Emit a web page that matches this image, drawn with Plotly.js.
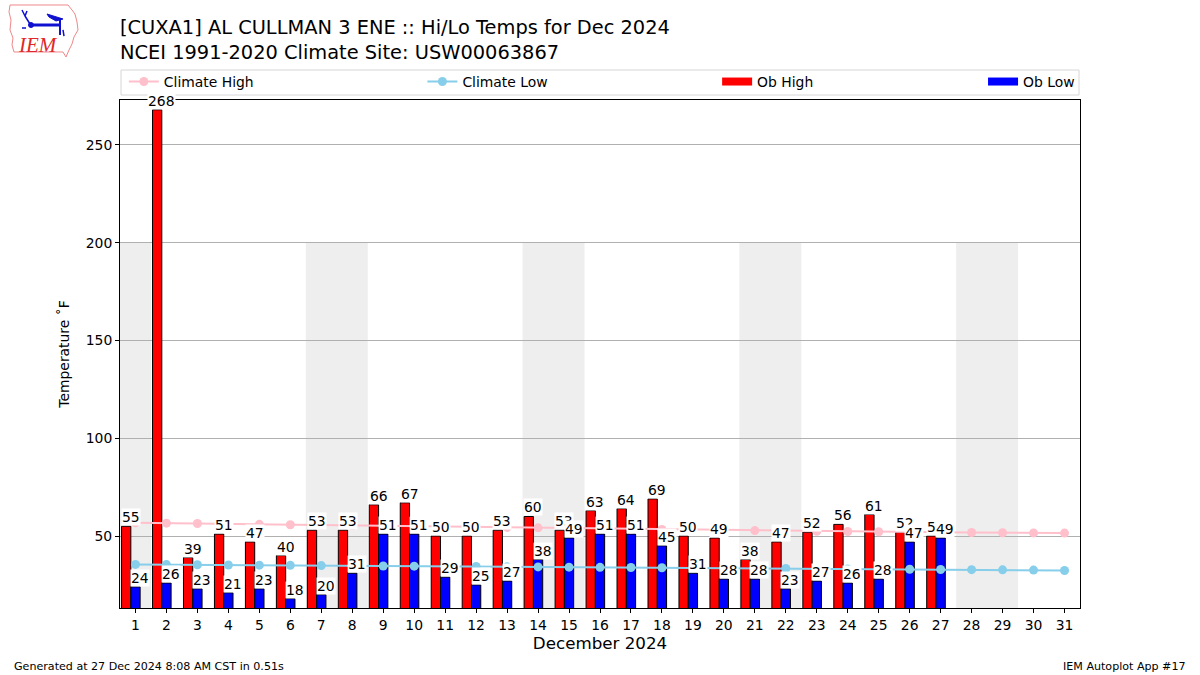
<!DOCTYPE html>
<html>
<head>
<meta charset="utf-8">
<script src="https://cdn.plot.ly/plotly-3.0.1.min.js"></script>
<style>
html,body{margin:0;padding:0;background:#fff;}
#chart{width:1200px;height:675px;}
</style>
</head>
<body>
<div id="chart"></div>
<script>
// ---- Data ----
const days = [1,2,3,4,5,6,7,8,9,10,11,12,13,14,15,16,17,18,19,20,21,22,23,24,25,26,27,28,29,30,31];
const obDays = [1,2,3,4,5,6,7,8,9,10,11,12,13,14,15,16,17,18,19,20,21,22,23,24,25,26,27];
const obHigh = [55,268,39,51,47,40,53,53,66,67,50,50,53,60,53,63,64,69,50,49,38,47,52,56,61,52,50];
const obLow  = [24,26,23,21,23,18,20,31,51,51,29,25,27,38,49,51,51,45,31,28,28,23,27,26,28,47,49];
const climateHigh = [56.8,56.6,56.4,56.2,56.0,55.8,55.6,55.4,55.2,55.0,54.8,54.6,54.4,54.2,54.0,53.8,53.6,53.4,53.2,53.0,52.8,52.6,52.4,52.3,52.2,52.0,51.9,51.8,51.7,51.6,51.5];
const climateLow  = [35.5,35.4,35.3,35.2,35.1,35.0,34.9,34.8,34.7,34.6,34.5,34.4,34.3,34.2,34.1,34.0,33.9,33.8,33.7,33.6,33.5,33.4,33.3,33.2,33.1,33.0,32.9,32.8,32.7,32.6,32.4];
const weekendBands = [[0.5,1.5],[6.5,8.5],[13.5,15.5],[20.5,22.5],[27.5,29.5]];
const yTicks = [50,100,150,200,250];

const FONT = 'DejaVu Sans, sans-serif';
const FS = 13.9;
// pixel -> paper helpers for decorations (plot area 120..1080 x 100..608)
const PX = x => (x - 120) / 960;
const PY = y => (608 - y) / 508;
const P = (x, y) => PX(x).toFixed(5) + ' ' + PY(y).toFixed(5);

const traces = [
  {type:'bar', x:obDays, y:obHigh, name:'Ob High', width:0.3, offset:-0.45,
   marker:{color:'#FF0000', line:{color:'#000', width:1}}, showlegend:false},
  {type:'bar', x:obDays, y:obLow, name:'Ob Low', width:0.3, offset:-0.15,
   marker:{color:'#0000FF', line:{color:'#000', width:1}}, showlegend:false},
  {type:'scatter', mode:'lines+markers', x:days, y:climateHigh, name:'Climate High',
   line:{color:'#FFC0CB', width:2}, marker:{color:'#FFC0CB', size:9}, legend:'legend', cliponaxis:false},
  {type:'scatter', mode:'lines+markers', x:days, y:climateLow, name:'Climate Low',
   line:{color:'#87CEEB', width:2}, marker:{color:'#87CEEB', size:9}, legend:'legend2', cliponaxis:false},
  // legend-only entries for the bars (wide rectangle symbols)
  {type:'scatter', mode:'lines', x:[null], y:[null], name:'Ob High', line:{color:'#FF0000', width:8}, legend:'legend3'},
  {type:'scatter', mode:'lines', x:[null], y:[null], name:'Ob Low', line:{color:'#0000FF', width:8}, legend:'legend4'}
];

const shapes = weekendBands.map(b => ({type:'rect', xref:'x', yref:'y', x0:b[0], x1:b[1], y0:0, y1:200,
  fillcolor:'#EEEEEE', line:{width:0}, layer:'below'}));
// legend frame
shapes.push({type:'rect', xref:'paper', yref:'paper', x0:PX(121), x1:PX(1079), y0:PY(95), y1:PY(70),
  line:{color:'#D6D6D6', width:1}, fillcolor:'rgba(255,255,255,0)', layer:'above'});
// logo: Iowa-like outline
shapes.push({type:'path', xref:'paper', yref:'paper',
  path:'M ' + P(10,5) + ' L ' + P(68,5) + ' L ' + P(72,10) + ' L ' + P(75,14) + ' L ' + P(77,22) + ' L ' + P(78,30) +
       ' L ' + P(74,37) + ' L ' + P(72,44) + ' L ' + P(69,50) + ' L ' + P(66,57) + ' L ' + P(63,52) + ' L ' + P(14,52) +
       ' L ' + P(12,45) + ' L ' + P(13,38) + ' L ' + P(10,30) + ' L ' + P(11,20) + ' L ' + P(9,12) + ' Z',
  line:{color:'#EE8888', width:1}, fillcolor:'rgba(0,0,0,0)'});
// logo: blue station symbol
shapes.push({type:'line', xref:'paper', yref:'paper', x0:PX(31), y0:PY(25), x1:PX(60), y1:PY(25), line:{color:'#1010D0', width:3}});
shapes.push({type:'circle', xref:'paper', yref:'paper', x0:PX(28.5), y0:PY(27.5), x1:PX(33.5), y1:PY(22.5), line:{color:'#1010D0', width:1}, fillcolor:'#1010D0'});
shapes.push({type:'line', xref:'paper', yref:'paper', x0:PX(60), y0:PY(18), x1:PX(60), y1:PY(35), line:{color:'#1010D0', width:2}});
shapes.push({type:'path', xref:'paper', yref:'paper', path:'M ' + P(47,14) + ' L ' + P(63,19) + ' L ' + P(56,21) + ' L ' + P(49,17) + ' Z',
  line:{color:'#1010D0', width:1}, fillcolor:'#1010D0'});
shapes.push({type:'path', xref:'paper', yref:'paper', path:'M ' + P(22,10) + ' L ' + P(25,16) + ' L ' + P(27,11) + ' M ' + P(25,16) + ' L ' + P(30,24),
  line:{color:'#1010D0', width:1.5}});
shapes.push({type:'path', xref:'paper', yref:'paper', path:'M ' + P(22,28) + ' L ' + P(26,28) + ' M ' + P(63,30) + ' L ' + P(64,36),
  line:{color:'#1010D0', width:1.5}});

const labelBase = {xref:'x', yref:'y', showarrow:false, xanchor:'center', yanchor:'bottom', yshift:0,
  bgcolor:'#FFFFFF', borderpad:0, font:{family:FONT, size:FS, color:'#000'}};
const barLabels = [];
obDays.forEach((d, i) => {
  barLabels.push(Object.assign({}, labelBase, {x:d - 0.15, y:obHigh[i], text:String(obHigh[i])}));
  barLabels.push(Object.assign({}, labelBase, {x:d + 0.15, y:obLow[i], text:String(obLow[i])}));
});

const legBase = {orientation:'h', bgcolor:'rgba(0,0,0,0)', borderwidth:0, yanchor:'middle', xanchor:'left', y:PY(82),
  font:{family:FONT, size:FS, color:'#000'}, itemwidth:30};

const layout = {
  width:1200, height:675,
  margin:{l:120, r:120, t:100, b:67, pad:0},
  paper_bgcolor:'#fff', plot_bgcolor:'#fff',
  font:{family:FONT, color:'#000', size:FS},
  title:{text:'[CUXA1] AL CULLMAN 3 ENE :: Hi/Lo Temps for Dec 2024<br>NCEI 1991-2020 Climate Site: USW00063867',
    x:120/1200, xanchor:'left', y:1-34/675, yanchor:'top', font:{family:FONT, size:19.4, color:'#000'}},
  barmode:'overlay',
  showlegend:true,
  legend: Object.assign({}, legBase, {x:0.004}),
  legend2: Object.assign({}, legBase, {x:0.315}),
  legend3: Object.assign({}, legBase, {x:0.622}),
  legend4: Object.assign({}, legBase, {x:0.899}),
  xaxis:{range:[0.5,31.5], tickmode:'array', tickvals:days, ticktext:days.map(String),
    showgrid:false, zeroline:false, showline:true, linecolor:'#000', linewidth:1, mirror:true,
    ticks:'outside', ticklen:4, tickcolor:'#000', tickfont:{family:FONT, size:FS},
    title:{text:'December 2024', font:{family:FONT, size:16.7}, standoff:5}},
  yaxis:{range:[13.2,273], tickmode:'array', tickvals:yTicks, ticktext:yTicks.map(String),
    showgrid:true, gridcolor:'#B0B0B0', gridwidth:1, zeroline:false, showline:true, linecolor:'#000', linewidth:1, mirror:true,
    ticks:'outside', ticklen:4, tickcolor:'#000', tickfont:{family:FONT, size:FS},
    title:{text:'Temperature ˚F', font:{family:FONT, size:FS}, standoff:12}},
  shapes:shapes,
  annotations:barLabels.concat([
    {xref:'paper', yref:'paper', x:PX(12), y:PY(666), xanchor:'left', yanchor:'middle', showarrow:false,
     text:'Generated at 27 Dec 2024 8:08 AM CST in 0.51s', font:{family:FONT, size:11.1}},
    {xref:'paper', yref:'paper', x:PX(1188), y:PY(666), xanchor:'right', yanchor:'middle', showarrow:false,
     text:'IEM Autoplot App #17', font:{family:FONT, size:11.1}},
    {xref:'paper', yref:'paper', x:PX(38), y:PY(45), xanchor:'center', yanchor:'middle', showarrow:false,
     text:'<i>IEM</i>', font:{family:'Liberation Serif, serif', size:21, color:'#E02828'}}
  ])
};

Plotly.newPlot('chart', traces, layout, {displayModeBar:false, staticPlot:true});
</script>
</body>
</html>
